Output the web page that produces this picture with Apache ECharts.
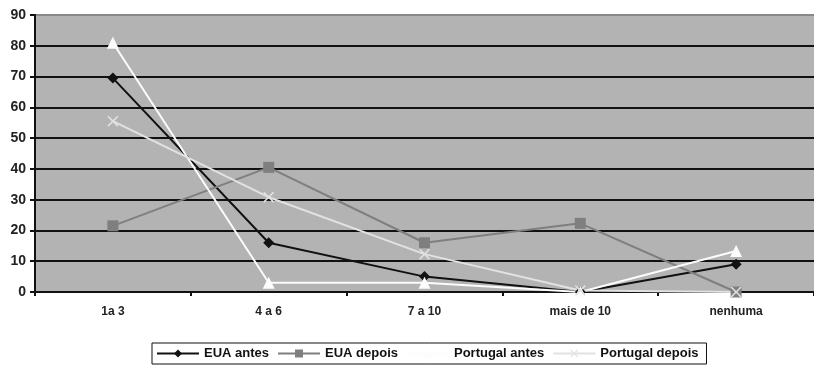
<!DOCTYPE html>
<html><head><meta charset="utf-8">
<script src="https://cdn.jsdelivr.net/npm/echarts@6/dist/echarts.min.js"></script>
<style>html,body{margin:0;padding:0;background:#fff}#c{width:814px;height:370px}</style>
</head><body><div id="c"></div>
<script>
const categories = ['1a 3', '4 a 6', '7 a 10', 'mais de 10', 'nenhuma'];
const euaAntes = [69.5, 16, 5, 0, 9];
const euaDepois = [21.5, 40.5, 16, 22.3, 0];
const portugalAntes = [81, 3, 3, 0, 13.3];
const portugalDepois = [55.5, 30.8, 12.3, 0.5, 0];
const yTicks = [0, 10, 20, 30, 40, 50, 60, 70, 80, 90];

const xPath = 'path://M0,1 L1,0 L5,4 L9,0 L10,1 L6,5 L10,9 L9,10 L5,6 L1,10 L0,9 L4,5 Z';
const font = 'Liberation Sans';

const chart = echarts.init(document.getElementById('c'), null, {renderer: 'canvas'});
chart.setOption({
  animation: false,
  backgroundColor: '#fff',
  grid: {left: 35, top: 15, width: 785, height: 277, show: true, backgroundColor: '#b3b3b3', borderWidth: 0},
  legend: {
    bottom: 6, left: 152,
    itemWidth: 42, itemHeight: 10, itemGap: 8,
    borderColor: '#111', borderWidth: 1, padding: [4, 8, 4, 4],
    textStyle: {fontFamily: font, fontSize: 13, fontWeight: 'bold', color: '#111'},
    data: ['EUA antes', 'EUA depois', 'Portugal antes', 'Portugal depois']
  },
  xAxis: {
    type: 'category', data: categories, boundaryGap: true,
    axisLine: {lineStyle: {color: '#111', width: 2}},
    axisTick: {show: true, length: 4, lineStyle: {color: '#111', width: 2}},
    axisLabel: {fontFamily: font, fontSize: 12, fontWeight: 'bold', color: '#222', margin: 14}
  },
  yAxis: {
    type: 'value', min: yTicks[0], max: yTicks[yTicks.length - 1], interval: 10,
    axisLine: {show: true, lineStyle: {color: '#111', width: 2}},
    axisTick: {show: true, length: 5, lineStyle: {color: '#111', width: 2}},
    axisLabel: {fontFamily: font, fontSize: 14, fontWeight: 'bold', color: '#222', margin: 9},
    splitLine: {lineStyle: {color: ['#111','#111','#111','#111','#111','#111','#111','#111','#111','#888'], width: 2}}
  },
  series: [
    {name: 'EUA antes', type: 'line', data: euaAntes, symbol: 'diamond', symbolSize: 11,
     lineStyle: {color: '#111', width: 2}, itemStyle: {color: '#111'}},
    {name: 'EUA depois', type: 'line', data: euaDepois, symbol: 'rect', symbolSize: 11,
     lineStyle: {color: '#7f7f7f', width: 2}, itemStyle: {color: '#7f7f7f'}},
    {name: 'Portugal antes', type: 'line', data: portugalAntes, symbol: 'triangle', symbolSize: 12,
     lineStyle: {color: '#fcfcfc', width: 2}, itemStyle: {color: '#fcfcfc'}},
    {name: 'Portugal depois', type: 'line', data: portugalDepois, symbol: xPath, symbolSize: 11,
     lineStyle: {color: '#e2e2e2', width: 2}, itemStyle: {color: '#e2e2e2'}}
  ]
});
</script></body></html>
